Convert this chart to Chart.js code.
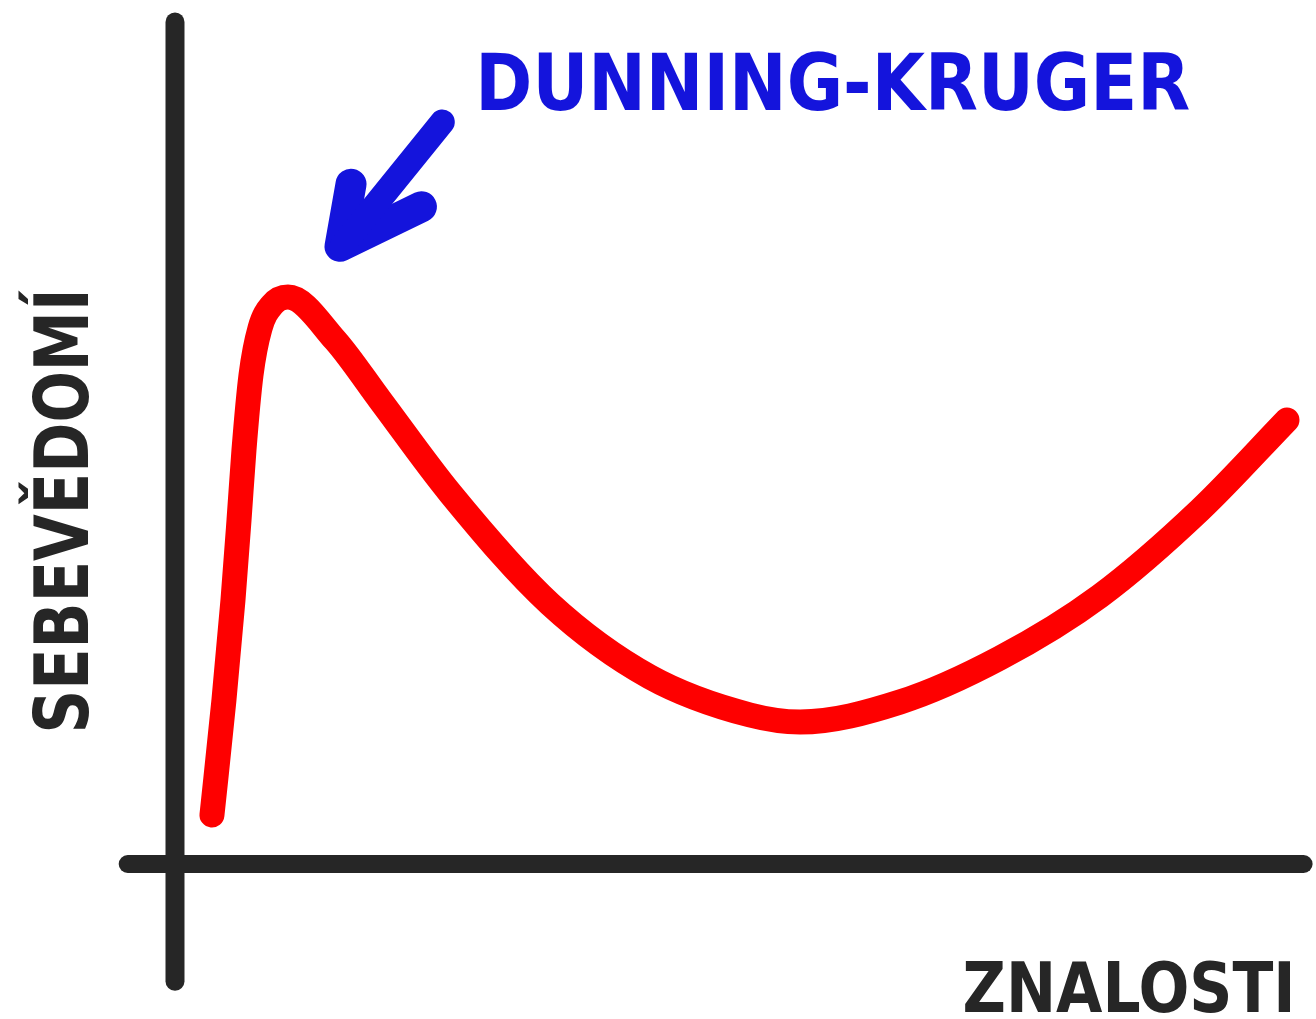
<!DOCTYPE html>
<html>
<head>
<meta charset="utf-8">
<script src="https://cdn.jsdelivr.net/npm/chart.js@4.4.1/dist/chart.umd.min.js"></script>
<style>
  html,body{margin:0;padding:0;background:#fff}
  #wrap{width:1316px;height:1019px;position:relative}
</style>
</head>
<body>
<div id="wrap"><canvas id="ch1"></canvas></div>
<script>
// Křivka: znalosti (x) vs. sebevědomí (y)
const knowledge  = [3.36, 4.45, 5.27, 5.82, 6.27, 6.91, 7.73, 8.82, 10.27,
                    14.55, 18.64, 25.0, 34.09, 43.18, 52.27, 56.82,
                    65.91, 75.0, 84.09, 93.18, 101.09];
const confidence = [8.91, 29.82, 48.0, 62.55, 75.27, 88.91, 97.45, 101.64, 103.09,
                    95.27, 84.36, 67.45, 47.27, 34.0, 27.09, 25.82,
                    29.45, 37.45, 48.73, 64.36, 80.73];

// Osy (ručně kreslené, přesahují přes počátek)
const xAxisLine = [[-4.3, 0], [102.6, 0]];
const yAxisLine = [[0, -21.3], [0, 153.1]];

// Šipka k vrcholu
const arrowShaft = [[24.3, 134.9], [15.2, 112.4]];
const arrowHead  = [[16.0, 123.6], [15.0, 112.3], [22.4, 119.5]];

const TITLE  = 'DUNNING-KRUGER';
const YLABEL = 'SEBEVĚDOMÍ';
const XLABEL = 'ZNALOSTI';

const INK = '#262626';
const RED = '#fe0000';
const BLUE = '#1414dc';

const pts = (arr) => arr.map(p => ({x:p[0], y:p[1]}));
const strokeDs = (data, color, width) => ({
  data, borderColor: color, backgroundColor: color, borderWidth: width,
  borderCapStyle: 'round', borderJoinStyle: 'round',
  pointRadius: 0, tension: 0, fill: false, clip: false
});

// texty kreslené přes škály
const labelsPlugin = {
  id: 'handLabels',
  afterDatasetsDraw(chart){
    const {ctx, scales:{x, y}} = chart;
    ctx.save();
    // nadpis
    ctx.fillStyle = BLUE;
    ctx.font = 'bold 78px "DejaVu Sans"';
    ctx.textAlign = 'left';
    ctx.textBaseline = 'alphabetic';
    ctx.fillText(TITLE, x.getPixelForValue(27.3), y.getPixelForValue(137.1), 715);
    // popisek osy x
    ctx.fillStyle = INK;
    ctx.font = 'bold 70px "DejaVu Sans"';
    ctx.fillText(XLABEL, x.getPixelForValue(71.6), y.getPixelForValue(-26.9), 333);
    // popisek osy y (otočený)
    ctx.translate(x.getPixelForValue(-7.9), y.getPixelForValue(64.2));
    ctx.rotate(-Math.PI/2);
    ctx.textAlign = 'center';
    ctx.font = 'bold 74px "DejaVu Sans"';
    ctx.fillText(YLABEL, 0, 0, 445);
    ctx.restore();
  }
};

const curve = knowledge.map((k, i) => ({x:k, y:confidence[i]}));

new Chart(document.getElementById('ch1'), {
  type: 'line',
  data: {
    datasets: [
      strokeDs(pts(xAxisLine), INK, 18),
      strokeDs(pts(yAxisLine), INK, 19),
      Object.assign(strokeDs(curve, RED, 25), {cubicInterpolationMode: 'monotone'}),
      strokeDs(pts(arrowShaft), BLUE, 25),
      strokeDs(pts(arrowHead), BLUE, 31),
    ]
  },
  options: {
    responsive: true,
    maintainAspectRatio: false,
    animation: false,
    layout: {padding: 0},
    plugins: {legend:{display:false}, tooltip:{enabled:false}, title:{display:false}},
    scales: {
      x: {type:'linear', display:false, min:-15.909, max:103.727},
      y: {type:'linear', display:false, min:-28.18, max:157.09}
    }
  },
  plugins: [labelsPlugin]
});
</script>
</body>
</html>
